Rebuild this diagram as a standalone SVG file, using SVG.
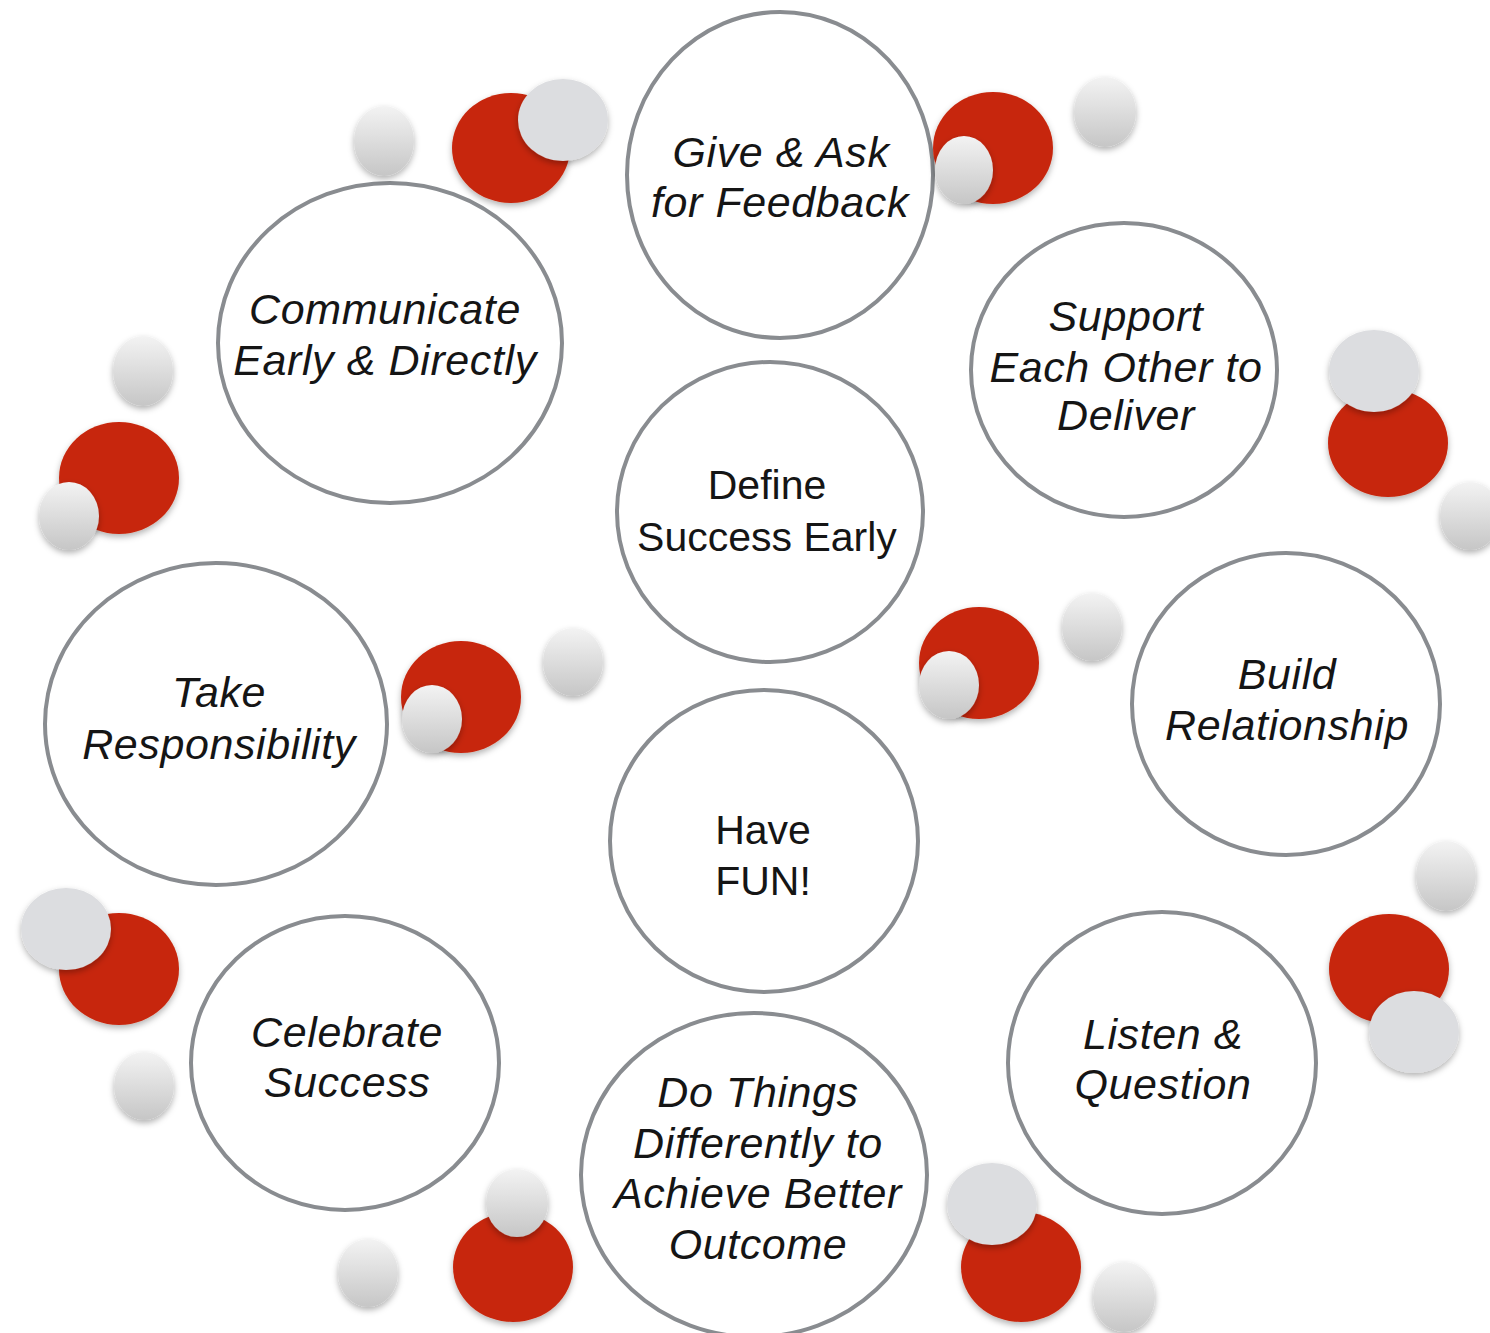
<svg xmlns="http://www.w3.org/2000/svg" width="1490" height="1333" viewBox="0 0 1490 1333">
<defs>
<linearGradient id="gSmall" x1="0" y1="0" x2="0" y2="1">
<stop offset="0" stop-color="#f3f3f3"/>
<stop offset="1" stop-color="#c6c6c6"/>
</linearGradient>
<filter id="sh" x="-30%" y="-30%" width="160%" height="170%">
<feDropShadow dx="0" dy="3" stdDeviation="3" flood-color="#000" flood-opacity="0.3"/>
</filter>
<style>
.main{fill:#fff;stroke:#898c90;stroke-width:4}
.red{fill:#c7260a;filter:url(#sh)}
.sg{fill:url(#gSmall);filter:url(#sh)}
.bg{fill:#dcdde0;filter:url(#sh)}
text{font-family:"Liberation Sans",Arial,sans-serif;font-size:41px;fill:#151515;text-anchor:middle}
.it{font-style:italic;font-size:43px;letter-spacing:0.6px}
</style>
</defs>
<rect width="1490" height="1333" fill="#fff"/>
<g id="connectors"/>
<g id="node-give-feedback">
<ellipse class="main" cx="780" cy="175" rx="153" ry="163"/>
<text class="it" x="781" y="167">Give &amp; Ask</text>
<text class="it" x="780" y="217">for Feedback</text>
</g>
<g id="node-communicate">
<ellipse class="main" cx="390" cy="343" rx="172" ry="160"/>
<text class="it" x="385" y="324">Communicate</text>
<text class="it" x="385" y="375">Early &amp; Directly</text>
</g>
<g id="node-support">
<ellipse class="main" cx="1124" cy="370" rx="153" ry="147"/>
<text class="it" x="1126" y="331">Support</text>
<text class="it" x="1126" y="382">Each Other to</text>
<text class="it" x="1126" y="430">Deliver</text>
</g>
<g id="node-define-success">
<ellipse class="main" cx="770" cy="512" rx="153" ry="150"/>
<text x="767" y="499">Define</text>
<text x="767" y="551">Success Early</text>
</g>
<g id="node-take-responsibility">
<ellipse class="main" cx="216" cy="724" rx="171" ry="161"/>
<text class="it" x="219" y="707">Take</text>
<text class="it" x="219" y="759">Responsibility</text>
</g>
<g id="node-build-relationship">
<ellipse class="main" cx="1286" cy="704" rx="154" ry="151"/>
<text class="it" x="1287" y="689">Build</text>
<text class="it" x="1287" y="740">Relationship</text>
</g>
<g id="node-have-fun">
<ellipse class="main" cx="764" cy="841" rx="154" ry="151"/>
<text x="763" y="844">Have</text>
<text x="763" y="895">FUN!</text>
</g>
<g id="node-celebrate">
<ellipse class="main" cx="345" cy="1063" rx="154" ry="147"/>
<text class="it" x="347" y="1047">Celebrate</text>
<text class="it" x="347" y="1097">Success</text>
</g>
<g id="node-listen">
<ellipse class="main" cx="1162" cy="1063" rx="154" ry="151"/>
<text class="it" x="1163" y="1049">Listen &amp;</text>
<text class="it" x="1163" y="1099">Question</text>
</g>
<g id="node-do-things">
<ellipse class="main" cx="754" cy="1175" rx="173" ry="162"/>
<text class="it" x="758" y="1107">Do Things</text>
<text class="it" x="758" y="1158">Differently to</text>
<text class="it" x="758" y="1208">Achieve Better</text>
<text class="it" x="758" y="1259">Outcome</text>
</g>
<g id="decor">
<ellipse class="sg" cx="384" cy="141" rx="30" ry="35"/>
<ellipse class="red" cx="511" cy="148" rx="59" ry="55"/>
<ellipse class="bg" cx="563" cy="120" rx="45" ry="41"/>

<ellipse class="red" cx="993" cy="148" rx="60" ry="56"/>
<ellipse class="sg" cx="964" cy="170" rx="29" ry="34"/>
<ellipse class="sg" cx="1105" cy="112" rx="31" ry="35"/>

<ellipse class="sg" cx="143" cy="371" rx="30" ry="35"/>
<ellipse class="red" cx="119" cy="478" rx="60" ry="56"/>
<ellipse class="sg" cx="69" cy="516" rx="30" ry="34"/>

<ellipse class="red" cx="1388" cy="443" rx="60" ry="54"/>
<ellipse class="bg" cx="1374" cy="371" rx="45" ry="41"/>
<ellipse class="sg" cx="1470" cy="516" rx="30" ry="34"/>

<ellipse class="red" cx="979" cy="663" rx="60" ry="56"/>
<ellipse class="sg" cx="949" cy="685" rx="30" ry="34"/>
<ellipse class="sg" cx="1092" cy="627" rx="30" ry="34"/>

<ellipse class="red" cx="461" cy="697" rx="60" ry="56"/>
<ellipse class="sg" cx="432" cy="719" rx="30" ry="34"/>
<ellipse class="sg" cx="573" cy="662" rx="30" ry="34"/>

<ellipse class="red" cx="119" cy="969" rx="60" ry="56"/>
<ellipse class="bg" cx="66" cy="929" rx="45" ry="41"/>
<ellipse class="sg" cx="144" cy="1086" rx="30" ry="34"/>

<ellipse class="sg" cx="1446" cy="876" rx="30" ry="35"/>
<ellipse class="red" cx="1389" cy="969" rx="60" ry="55"/>
<ellipse class="bg" cx="1414" cy="1032" rx="45" ry="41"/>

<ellipse class="sg" cx="368" cy="1273" rx="30" ry="34"/>
<ellipse class="red" cx="513" cy="1267" rx="60" ry="55"/>
<ellipse class="sg" cx="517" cy="1203" rx="31" ry="34"/>

<ellipse class="red" cx="1021" cy="1267" rx="60" ry="55"/>
<ellipse class="bg" cx="992" cy="1204" rx="45" ry="41"/>
<ellipse class="sg" cx="1124" cy="1297" rx="31" ry="35"/>
</g>
</svg>
